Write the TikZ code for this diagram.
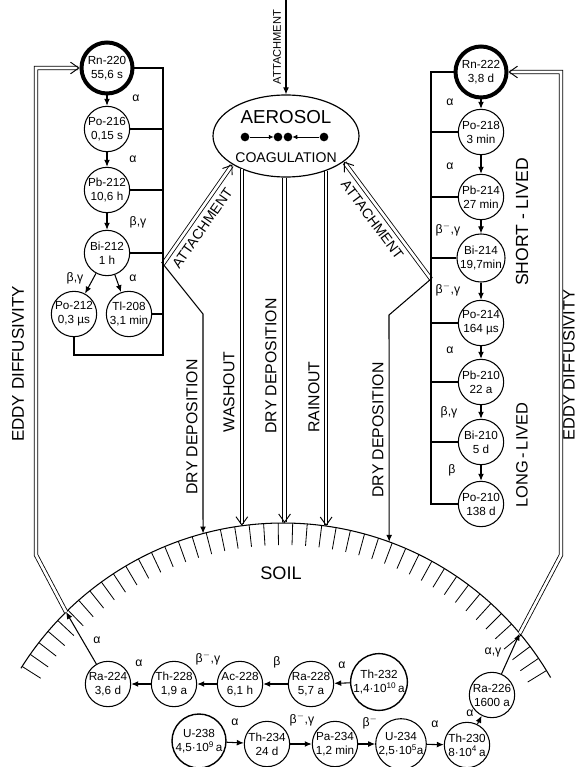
\documentclass[tikz,border=0pt]{standalone}
\usepackage{fontspec}
\setmainfont{Liberation Sans}
\usetikzlibrary{positioning, arrows.meta, shapes.geometric, calc}

\tikzset{
  iso/.style={circle, draw, line width=0.9pt, minimum size=1.36cm, inner sep=0pt,
    align=center, font=\fontsize{10}{12}\selectfont},
  parent/.style={iso, line width=3.4pt, minimum size=1.53cm},
  head/.style={iso, line width=1.2pt, minimum size=1.62cm},
  decay/.style={line width=0.9pt, -{Latex[length=6pt, width=5pt]}},
  bus/.style={line width=0.9pt},
  flow/.style={line width=0.7pt, double, double distance=2.3pt,
    -{Straight Barb[length=7pt, width=10pt, line width=0.8pt]}},
  lab/.style={font=\fontsize{10.5}{12}\selectfont},
  vlab/.style={rotate=90, font=\fontsize{13.5}{15}\selectfont},
  dot/.style={circle, fill, minimum size=0.26cm, inner sep=0pt},
}

\begin{document}
\begin{tikzpicture}[x=0.03cm, y=-0.03cm]
  \useasboundingbox (0,0) rectangle (577,767);

  % aerosol box
  \node[ellipse, draw, line width=1pt, minimum width=4.38cm, minimum height=2.46cm] (aerosol) at (286,136) {};
  \node[font=\fontsize{16}{18}\selectfont] (aerotxt) at (286,117) {AEROSOL};
  \node[font=\fontsize{12}{14}\selectfont] (coagtxt) at (286,158) {COAGULATION};
  \node[dot] (d1) at (245,137) {};
  \node[dot] (d2) at (278,137) {};
  \node[dot] (d3) at (288,137) {};
  \node[dot] (d4) at (324,137) {};
  \draw[line width=0.6pt, -{Latex[length=4pt, width=4pt]}] (d1) -- (d2);
  \draw[line width=0.6pt, -{Latex[length=4pt, width=4pt]}] (d4) -- (d3);

  \coordinate (top) at (286,0);
  \draw[decay] (top) -- (aerosol.north);
  \node[rotate=90, font=\fontsize{9.5}{11}\selectfont] (atttop) at (277,47) {ATTACHMENT};

  % soil
  \coordinate (soilc) at (283,832);
  \draw[line width=0.9pt] plot[domain=30:148, samples=80, smooth] ({283+309*cos(\x)},{832-309*sin(\x)});
  \foreach \i [evaluate=\i as \a using 31.5+2.7*\i] in {0,...,43}
    \draw[line width=0.7pt] ($(soilc)+(-\a:309)$) -- ($(soilc)+(-\a:287)$);
  \node[font=\fontsize{15.5}{17}\selectfont] (soil) at (281,573) {SOIL};

  \coordinate (sDryL) at ($(soilc)+(-105:309)$);
  \coordinate (sWash) at ($(soilc)+(-97.6:309)$);
  \coordinate (sDryC) at ($(soilc)+(-90:309)$);
  \coordinate (sRain) at ($(soilc)+(-82:309)$);
  \coordinate (sDryR) at ($(soilc)+(-69.9:309)$);
  \coordinate (eL) at ($(soilc)+(-134.6:309)$);
  \coordinate (eR) at ($(soilc)+(-40:309)$);

  % deposition
  \draw[flow] (aerosol.-143) -- (aerosol.-143 |- sWash);
  \draw[flow] (aerosol.-92) -- (aerosol.-92 |- sDryC);
  \draw[flow] (aerosol.-41) -- (aerosol.-41 |- sRain);
  \node[vlab] (dryL) at (192,427) {DRY DEPOSITION};
  \node[vlab] (wash) at (229,392) {WASHOUT};
  \node[vlab] (dryC) at (271,366) {DRY DEPOSITION};
  \node[vlab] (rain) at (314,397) {RAINOUT};
  \node[vlab] (dryR) at (378,430) {DRY DEPOSITION};

  \coordinate (lfork) at (163,264);
  \coordinate (lbend) at (203,314);
  \draw[flow] (lfork) -- node[sloped, below=2pt, pos=0.43, font=\fontsize{12}{14}\selectfont] (attL) {ATTACHMENT} (aerosol.208);
  \draw[decay] (lfork) -- (lbend) -- (sDryL);

  \coordinate (rfork) at (431,279);
  \coordinate (rbend) at (389,315);
  \draw[flow] (rfork) -- node[sloped, below=2pt, pos=0.565, font=\fontsize{12}{14}\selectfont] (attR) {ATTACHMENT} (aerosol.-24);
  \draw[decay] (rfork) -- (rbend) -- (sDryR);

  % thoron chain
  \node[parent] (rn220) at (107,68) {Rn-220\\55,6 s};
  \node[iso] (po216) at (107,129) {Po-216\\0,15 s};
  \node[iso] (pb212) at (107,190) {Pb-212\\10,6 h};
  \node[iso] (bi212) at (107,253) {Bi-212\\1 h};
  \node[iso] (po212) at (74,314) {Po-212\\0,3 µs};
  \node[iso] (tl208) at (129,314) {Tl-208\\3,1 min};
  \draw[decay] (rn220) -- (po216);
  \draw[decay] (po216) -- (pb212);
  \draw[decay] (pb212) -- (bi212);
  \draw[decay] (bi212) -- (po212);
  \draw[decay] (bi212) -- (tl208);
  \coordinate (lbusT) at (163,68);
  \coordinate (lbusB) at (163,355);
  \draw[bus] (rn220) -- (lbusT) -- (lbusB) -| (po212);
  \foreach \n in {po216,pb212,bi212,tl208}
    \draw[bus] (\n) -- (\n -| lbusT);
  \foreach \x/\y/\t [count=\k] in {136/98/α, 133/159/α, 138/222/{β,γ}, 75/278/{β,γ}, 133/278/α}
    \node[lab] (tl\k) at (\x,\y) {\t};

  % radon chain
  \node[parent] (rn222) at (481,72) {Rn-222\\3,8 d};
  \node[iso] (po218) at (481,132) {Po-218\\3 min};
  \node[iso] (pb214) at (481,197) {Pb-214\\27 min};
  \node[iso] (bi214) at (481,258) {Bi-214\\19,7min};
  \node[iso] (po214) at (481,323) {Po-214\\164 µs};
  \node[iso] (pb210) at (481,382) {Pb-210\\22 a};
  \node[iso] (bi210) at (481,442) {Bi-210\\5 d};
  \node[iso] (po210) at (481,504) {Po-210\\138 d};
  \draw[decay] (rn222) -- (po218);
  \draw[decay] (po218) -- (pb214);
  \draw[decay] (pb214) -- (bi214);
  \draw[decay] (bi214) -- (po214);
  \draw[decay] (po214) -- (pb210);
  \draw[decay] (pb210) -- (bi210);
  \draw[decay] (bi210) -- (po210);
  \coordinate (rbusT) at (431,72);
  \coordinate (rbusB) at (431,504);
  \draw[bus] (rn222) -- (rbusT) -- (rbusB) -- (po210);
  \foreach \n in {po218,pb214,bi214,po214,pb210,bi210}
    \draw[bus] (\n) -- (\n -| rbusT);
  \foreach \x/\y/\t [count=\k] in {450/102/α, 450/166/α, 448/230/{β$^-$,γ}, 448/290/{β$^-$,γ},
      450/350/α, 449/412/{β,γ}, 452/470/β}
    \node[lab] (rl\k) at (\x,\y) {\t};
  \node[rotate=90, font=\fontsize{15}{17}\selectfont] (short) at (522,222) {SHORT - LIVED};
  \node[rotate=90, font=\fontsize{14}{16}\selectfont] (long) at (522,455) {LONG\,-\,LIVED};

  % eddy diffusivity
  \coordinate (eLk) at (36,555);
  \coordinate (eLt) at (36,68);
  \draw[flow] (eL) -- (eLk) -- (eLt) -- (rn220);
  \coordinate (eRk) at (561,555);
  \coordinate (eRt) at (561,72);
  \draw[flow] (eR) -- (eRk) -- (eRt) -- (rn222);
  \node[rotate=90, font=\fontsize{14.5}{16}\selectfont] (eddyL) at (18,364) {EDDY DIFFUSIVITY};
  \node[rotate=90, inner sep=0pt, font=\fontsize{14}{16}\selectfont] (eddyR) at (569,365) {EDDY DIFFUSIVITY};

  % ground sources
  \node[iso] (ra224) at (108,684) {Ra-224\\3,6 d};
  \node[iso] (th228) at (174,684) {Th-228\\1,9 a};
  \node[iso] (ac228) at (240,684) {Ac-228\\6,1 h};
  \node[iso] (ra228) at (311,684) {Ra-228\\5,7 a};
  \node[head] (th232) at (379,682) {Th-232\\1,4·10\textsuperscript{10}\,a};
  \draw[decay] (th232) -- (ra228);
  \draw[decay] (ra228) -- (ac228);
  \draw[decay] (ac228) -- (th228);
  \draw[decay] (th228) -- (ra224);
  \draw[decay] (ra224) -- (eL);

  \node[head] (u238) at (199,741) {U-238\\4,5·10\textsuperscript{9}\,a};
  \node[iso] (th234) at (267,744) {Th-234\\24 d};
  \node[iso] (pa234) at (335,744) {Pa-234\\1,2 min};
  \node[iso] (u234) at (401,744) {U-234\\2,5·10\textsuperscript{5}a};
  \node[iso] (th230) at (467,745) {Th-230\\8·10\textsuperscript{4}\,a};
  \node[iso] (ra226) at (492,695) {Ra-226\\1600 a};
  \draw[decay] (u238) -- (th234);
  \draw[decay] (th234) -- (pa234);
  \draw[decay] (pa234) -- (u234);
  \draw[decay] (u234) -- (th230);
  \draw[decay] (th230) -- (ra226);
  \draw[decay] (ra226) -- (eR);
  \foreach \x/\y/\t [count=\k] in {97/640/α, 139/663/α, 208/659/{β$^-$,γ}, 277/662/β, 342/665/α,
      235/722/α, 302/720/{β$^-$,γ}, 370/723/β$^-$, 435/724/α, 470/713/α, 493/652/{α,γ}}
    \node[lab] (gl\k) at (\x,\y) {\t};
\end{tikzpicture}
\end{document}
